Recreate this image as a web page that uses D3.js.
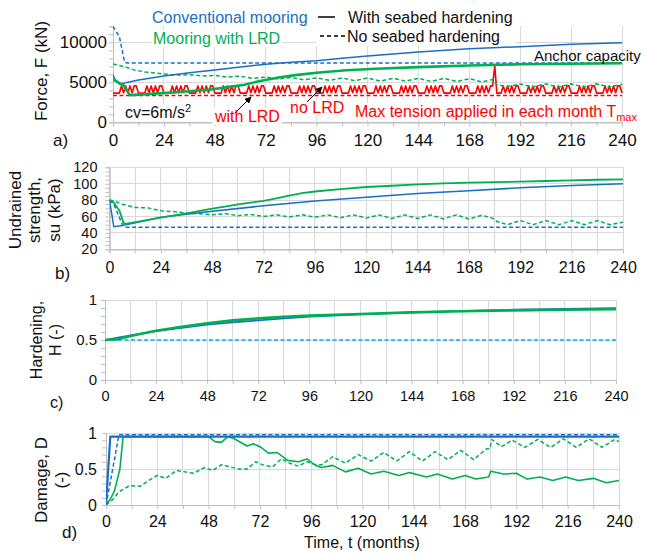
<!DOCTYPE html>
<html>
<head>
<meta charset="utf-8">
<script src="https://cdn.jsdelivr.net/npm/d3@7"></script>
<style>
  body { margin: 0; background: #fff; }
  svg { display: block; }
</style>
</head>
<body>
<div id="chart"></div>
<script>
// ---- data (months, value) ----
const monthTicks = d3.range(0, 241, 24);

// a) force, kN
const forceConvHard = [[0,5900],[1,5300],[3,4800],[6,4950],[12,5300],[24,5800],[36,6200],[48,6550],[60,6900],[72,7250],[84,7500],[96,7700],[108,8000],[120,8300],[144,8800],[168,9200],[192,9450],[216,9750],[240,9950]];
const forceConvSoft = [[0,12000],[3,10700],[5.5,7500],[7,7400],[240,7400]];
const forceLrdHard = [[0,5400],[3,4900],[5,4600],[8,3400],[18,3550],[30,3750],[46,4100],[54,4400],[62,4700],[70,5200],[78,5600],[86,5900],[96,6200],[110,6500],[124,6700],[144,6900],[168,7100],[192,7250],[216,7320],[240,7380]];
const forceLrdSoft = [[0,7300],[3,7100],[6,6900],[10,6550],[15,6300],[20,6150],[24,6050],[30,5900],[36,5950],[42,5800],[48,5850],[54,5650],[60,5750],[66,5500],[72,5650],[78,5400],[84,5600],[90,5300],[96,5550],[102,5250],[108,5550],[114,5200],[120,5550],[126,5150],[132,5500],[138,5150],[144,5500],[150,5100],[156,5500],[162,5100],[168,5450],[174,5050],[179,5350],[181,4700],[186,4450],[192,4800],[198,4400],[204,4800],[210,4400],[216,4800],[222,4400],[228,4800],[234,4400],[240,4750]];
const tmaxYear = [3650,3650,3650,3650,4550,3700,4550,3700,4550,3700,4550,4550];
const tmaxSpikeMonth = 180;
const tmaxSpike = 7100;
const tmaxMin = [[0,3350],[240,3350]];

// b) undrained strength, kPa
const suConvHard = [[0,80],[2,47.5],[6,49],[12,52.5],[24,59],[48,66.5],[72,73],[96,79],[120,83.5],[144,88],[168,91.5],[192,95],[216,97.7],[240,100]];
const suConvSoft = [[0,80],[2,75],[4,63],[6,50],[7,47],[240,47]];
const suLrdHard = [[0,80],[2,77],[4.7,67],[6.5,52.5],[7.5,51],[24,58.6],[36,63.9],[48,69.6],[54,72],[60,74.9],[66,77],[72,79],[78,82],[84,85.5],[90,88.5],[96,90.5],[108,93.5],[120,96],[132,97.5],[144,99.3],[156,100.5],[168,101.3],[180,101.8],[192,102.6],[204,103.3],[216,104.1],[228,104.8],[240,105.2]];
const suLrdSoft = [[0,80],[3,78],[6,75],[12,71],[18,70.5],[24,67],[30,66],[36,64],[42,63.5],[48,62],[54,63.5],[60,61],[66,62.5],[72,60],[78,62],[84,59.5],[90,62],[96,59],[102,62],[108,58.5],[114,62],[120,58],[126,62],[132,57.5],[138,62],[144,57.5],[150,62],[156,57],[162,62],[168,57],[174,61.5],[179,58],[181,54],[186,50],[192,55],[198,50],[204,55],[210,50],[216,55],[222,50],[228,55],[234,50],[240,53]];

// c) hardening H
const hConvHard = [[0,0.5],[6,0.53],[12,0.56],[24,0.61],[36,0.65],[48,0.69],[60,0.72],[72,0.745],[84,0.77],[96,0.79],[120,0.82],[144,0.845],[168,0.865],[192,0.88],[216,0.89],[240,0.9]];
const hLrdHard = [[0,0.5],[6,0.51],[12,0.55],[24,0.615],[36,0.665],[48,0.71],[60,0.745],[72,0.77],[84,0.79],[96,0.805],[120,0.825],[144,0.845],[168,0.86],[192,0.87],[216,0.878],[240,0.885]];
const hSoft = [[0,0.5],[240,0.5]];

// d) damage D
const dConvHard = [[0,0],[2,0.95],[240,0.95]];
const dConvSoft = [[0,0],[4.2,0.67],[6,0.975],[240,0.975]];
const dLrdHard = [[0,0],[2,0.08],[4,0.2],[5.5,0.38],[6.5,0.5],[8,0.95],[48,0.95],[51,0.88],[54,0.87],[57,0.95],[60,0.92],[66,0.82],[69,0.85],[72,0.81],[76,0.72],[80,0.73],[85,0.62],[90,0.6],[94,0.64],[98,0.55],[101,0.52],[106,0.55],[112,0.46],[118,0.51],[124,0.43],[130,0.47],[137,0.41],[142,0.45],[150,0.39],[155,0.43],[162,0.36],[168,0.41],[173,0.36],[179,0.39],[180,0.47],[186,0.43],[192,0.44],[197,0.36],[203,0.39],[209,0.34],[215,0.39],[221,0.34],[228,0.37],[234,0.31],[240,0.34]];
const dLrdSoft = [[0,0],[3,0.07],[6,0.18],[11,0.27],[16,0.26],[20,0.34],[24,0.41],[28,0.37],[33,0.48],[37,0.46],[41,0.44],[46,0.52],[50,0.48],[54,0.56],[58,0.53],[62,0.5],[66,0.5],[70,0.6],[74,0.55],[78,0.53],[82,0.64],[86,0.58],[90,0.54],[94,0.6],[98,0.56],[101,0.56],[106,0.67],[112,0.58],[118,0.7],[124,0.61],[130,0.73],[136,0.61],[142,0.74],[148,0.61],[154,0.74],[160,0.63],[166,0.76],[172,0.63],[178,0.78],[179.5,0.78],[180.5,0.91],[185,0.81],[190,0.9],[196,0.8],[202,0.91],[208,0.8],[214,0.92],[220,0.8],[226,0.92],[232,0.8],[238,0.91],[240,0.88]];

// ---- drawing ----
const width = 647, height = 556;
const FONT = '"Liberation Sans", Arial, sans-serif';
const BLUE = "#1a6fc4", GREEN = "#00b050", RED = "#ff0000", CYAN = "#00b0f0";
const GRID = "#d9d9d9", AXIS = "#bfbfbf";

const forceTmax = d3.range(0, 241).map(m => [m, m === tmaxSpikeMonth ? tmaxSpike : tmaxYear[m % 12]]);

const svg = d3.create("svg")
  .attr("width", width)
  .attr("height", height)
  .style("font-family", FONT);
document.getElementById("chart").append(svg.node());

svg.append("defs").append("marker")
  .attr("id", "arrow")
  .attr("viewBox", "0 0 10 10")
  .attr("refX", 9).attr("refY", 5)
  .attr("markerWidth", 7).attr("markerHeight", 7)
  .attr("orient", "auto")
  .append("path").attr("d", "M0,0 L10,5 L0,10 z").attr("fill", "#000");

const gridLayer = svg.append("g");
const boxLayer = svg.append("g");
const lineLayer = svg.append("g");
const textLayer = svg.append("g");

function panel(o) {
  const x = d3.scaleLinear().domain([0, 240]).range([o.left, o.right]);
  const y = d3.scaleLinear().domain(o.yDomain).range([o.bottom, o.top]);

  const gg = gridLayer.append("g");
  gg.selectAll(".vg").data(o.xGrid).join("line")
    .attr("x1", d => x(d)).attr("x2", d => x(d))
    .attr("y1", o.bottom).attr("y2", o.top)
    .attr("stroke", GRID).attr("shape-rendering", "crispEdges");
  gg.selectAll(".hg").data(o.yGrid).join("line")
    .attr("x1", o.left).attr("x2", o.right)
    .attr("y1", d => y(d)).attr("y2", d => y(d))
    .attr("stroke", GRID).attr("shape-rendering", "crispEdges");

  // minor ticks
  gg.append("g").attr("transform", `translate(0,${o.bottom})`)
    .call(d3.axisBottom(x).tickValues(d3.range(0, 241, 12)).tickSize(4).tickFormat(""))
    .call(a => a.selectAll("line,path").attr("stroke", AXIS));
  gg.append("g").attr("transform", `translate(${o.left},0)`)
    .call(d3.axisLeft(y).tickValues(o.yMinor).tickSize(4).tickFormat(""))
    .call(a => a.selectAll("line,path").attr("stroke", AXIS));

  // major axes with labels
  gg.append("g").attr("transform", `translate(0,${o.bottom})`)
    .call(d3.axisBottom(x).tickValues(monthTicks).tickSize(0).tickPadding(o.xPad))
    .call(a => a.attr("font-family", null).attr("font-size", o.xFont))
    .call(a => a.select(".domain").attr("stroke", AXIS))
    .call(a => a.selectAll("text").attr("fill", "#111"));
  gg.append("g").attr("transform", `translate(${o.left},0)`)
    .call(d3.axisLeft(y).tickValues(o.yTicks).tickSize(0).tickPadding(o.yPad).tickFormat(o.yFormat))
    .call(a => a.attr("font-family", null).attr("font-size", o.yFont))
    .call(a => a.select(".domain").attr("stroke", AXIS))
    .call(a => a.selectAll("text").attr("fill", "#111"));

  const lg = lineLayer.append("g");
  const clipId = "clip" + o.name;
  svg.select("defs").append("clipPath").attr("id", clipId)
    .append("rect").attr("x", o.left).attr("y", o.top - 1)
    .attr("width", o.right - o.left + 1).attr("height", o.bottom - o.top + 1);
  lg.attr("clip-path", `url(#${clipId})`);
  const line = d3.line().x(d => x(d[0])).y(d => y(d[1]));
  o.series.forEach(s => {
    lg.append("path").datum(s.data)
      .attr("d", line)
      .attr("fill", "none")
      .attr("stroke", s.color)
      .attr("stroke-width", s.w || 1.5)
      .attr("stroke-linejoin", "round")
      .attr("stroke-dasharray", s.dash ? "4,2.5" : null);
  });
  return { x, y };
}

panel({
  name: "a", left: 113, right: 622, top: 26.3, bottom: 122.3,
  yDomain: [0, 12000], yTicks: [0, 5000, 10000], yGrid: [0, 5000, 10000],
  yMinor: d3.range(0, 12001, 1000), xGrid: monthTicks,
  yFormat: d3.format("d"), xFont: 17, yFont: 17, xPad: 12, yPad: 6,
  series: [
    { data: tmaxMin, color: RED, dash: true },
    { data: forceTmax, color: RED, w: 1.6 },
    { data: forceLrdSoft, color: GREEN, dash: true },
    { data: forceConvSoft, color: BLUE, dash: true },
    { data: forceConvHard, color: BLUE },
    { data: forceLrdHard, color: GREEN, w: 2.6 }
  ]
});

panel({
  name: "b", left: 109.5, right: 623, top: 167.3, bottom: 249.3,
  yDomain: [20, 120], yTicks: d3.range(20, 121, 20), yGrid: d3.range(20, 121, 20),
  yMinor: d3.range(20, 121, 5), xGrid: d3.range(0, 241, 12),
  yFormat: d3.format("d"), xFont: 16, yFont: 14.5, xPad: 12, yPad: 12,
  series: [
    { data: suConvSoft, color: BLUE, dash: true },
    { data: suLrdSoft, color: GREEN, dash: true },
    { data: suConvHard, color: BLUE },
    { data: suLrdHard, color: GREEN, w: 1.8 }
  ]
});

panel({
  name: "c", left: 105, right: 616, top: 300, bottom: 380,
  yDomain: [0, 1], yTicks: [0, 0.5, 1], yGrid: [0, 0.5, 1],
  yMinor: d3.range(0, 1.01, 0.1), xGrid: d3.range(0, 241, 12),
  yFormat: d3.format("~g"), xFont: 14.5, yFont: 15, xPad: 11, yPad: 8,
  series: [
    { data: hSoft, color: CYAN, dash: true },
    { data: hConvHard, color: BLUE, w: 1.6 },
    { data: hLrdHard, color: GREEN, w: 2.6 }
  ]
});

panel({
  name: "d", left: 106, right: 619, top: 433, bottom: 505,
  yDomain: [0, 1], yTicks: [0, 0.5, 1], yGrid: [0, 0.5, 1],
  yMinor: d3.range(0, 1.01, 0.1), xGrid: d3.range(0, 241, 12),
  yFormat: d3.format("~g"), xFont: 16, yFont: 16, xPad: 11, yPad: 9,
  series: [
    { data: dLrdSoft, color: GREEN, dash: true },
    { data: dLrdHard, color: GREEN, w: 1.6 },
    { data: dConvHard, color: BLUE, w: 2.2 },
    { data: dConvSoft, color: BLUE, dash: true }
  ]
});

// ---- text ----
function txt(s, x, y, opt = {}) {
  const t = textLayer.append("text")
    .attr("x", x).attr("y", y)
    .attr("font-size", opt.size || 16)
    .attr("fill", opt.color || "#111")
    .attr("text-anchor", opt.anchor || "start")
    .text(s);
  if (opt.rotate) t.attr("transform", `rotate(-90 ${x} ${y})`);
  if (opt.bg) {
    const b = t.node().getBBox();
    boxLayer.append("rect")
      .attr("x", b.x - 2).attr("y", b.y)
      .attr("width", b.width + 4).attr("height", b.height)
      .attr("fill", "#fff");
  }
  return t;
}

// legend
txt("Conventional mooring", 152, 23, { color: BLUE, bg: true });
txt("Mooring with LRD", 153, 44, { color: GREEN, bg: true });
boxLayer.append("rect").attr("x", 316).attr("y", 8).attr("width", 200).attr("height", 38).attr("fill", "#fff");
textLayer.append("line").attr("x1", 318).attr("x2", 335).attr("y1", 17).attr("y2", 17)
  .attr("stroke", "#000").attr("stroke-width", 1.5);
textLayer.append("line").attr("x1", 320).attr("x2", 345).attr("y1", 36).attr("y2", 36)
  .attr("stroke", "#000").attr("stroke-width", 1.5).attr("stroke-dasharray", "4,3");
txt("With seabed hardening", 348, 23);
txt("No seabed hardening", 347, 42);

// annotations in panel a
txt("Anchor capacity", 534, 61, { size: 15 });
const cv = txt("cv=6m/s", 125, 118, { bg: true });
cv.append("tspan").attr("dy", -6).attr("font-size", 11).text("2");
txt("with LRD", 215, 122, { color: RED, bg: true });
txt("no LRD", 290, 113, { color: RED, bg: true });
const tm = txt("Max tension applied in each month T", 355, 117, { color: RED, bg: true });
tm.append("tspan").attr("dy", 4).attr("font-size", 11).text("max");

textLayer.append("line").attr("x1", 235).attr("y1", 113).attr("x2", 251).attr("y2", 97)
  .attr("stroke", "#000").attr("stroke-width", 1).attr("marker-end", "url(#arrow)");
textLayer.append("line").attr("x1", 307).attr("y1", 102).attr("x2", 322).attr("y2", 87)
  .attr("stroke", "#000").attr("stroke-width", 1).attr("marker-end", "url(#arrow)");

// axis titles
txt("Force, F (kN)", 47, 71, { rotate: true, anchor: "middle", size: 17 });
txt("Undrained", 21, 210, { rotate: true, anchor: "middle", size: 17 });
txt("strength,", 40, 210, { rotate: true, anchor: "middle", size: 17 });
txt("su (kPa)", 60, 210, { rotate: true, anchor: "middle", size: 17 });
txt("Hardening,", 42, 340, { rotate: true, anchor: "middle", size: 16 });
txt("H (-)", 61, 340, { rotate: true, anchor: "middle", size: 16 });
txt("Damage, D", 47, 480, { rotate: true, anchor: "middle", size: 17 });
txt("(-)", 67, 480, { rotate: true, anchor: "middle", size: 17 });
txt("Time, t (months)", 362, 548, { anchor: "middle", size: 16 });

// panel letters
txt("a)", 53, 146, { size: 17 });
txt("b)", 55, 279, { size: 17 });
txt("c)", 50, 408, { size: 16 });
txt("d)", 62, 538, { size: 17 });
</script>
</body>
</html>
